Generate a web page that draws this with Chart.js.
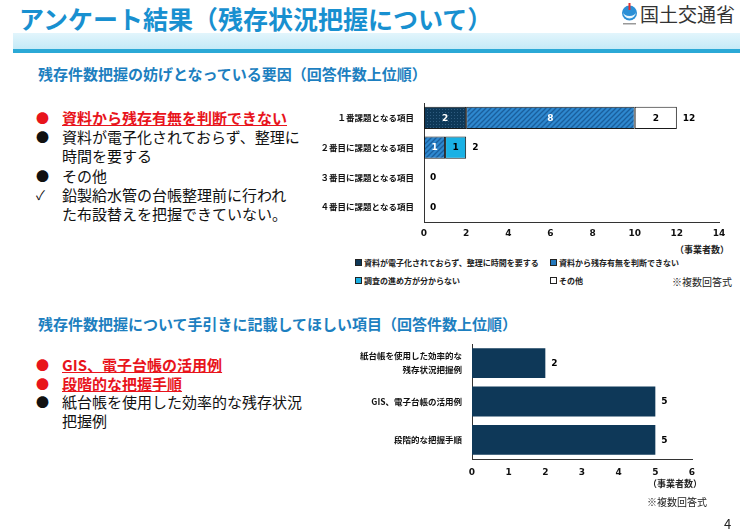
<!DOCTYPE html>
<html lang="ja">
<head>
<meta charset="utf-8">
<title>アンケート結果（残存状況把握について）</title>
<script src="https://cdn.jsdelivr.net/npm/chart.js@4.4.1/dist/chart.umd.min.js"></script>
<style>
body { margin: 0; background: #fff; font-family: 'Noto Sans CJK JP', sans-serif; }
#page { position: relative; width: 754px; height: 532px; overflow: hidden; background: #fff; }
.abs { position: absolute; white-space: nowrap; }
#title { left: 19px; top: 1px; font-size: 25px; line-height: 34px; font-weight: bold; color: #1890d0; }
#logoText { left: 640px; top: 2px; font-size: 19px; line-height: 24px; color: #333; }
#band { left: 13px; top: 33px; width: 727px; height: 16px; background: linear-gradient(#e2f5fc, #c5eaf7); }
#bandLine { left: 13px; top: 49px; width: 727px; height: 4px; background: #2ba9d6; }
.heading { left: 38px; font-size: 15px; line-height: 20px; font-weight: bold; color: #1d7fc0; }
.bullets { left: 36px; font-size: 15px; color: #111; }
.bullets div { position: relative; padding-left: 26px; }
.bullets .mark { position: absolute; left: 0; top: 0; font-size: 13px; }
.bullets .red { color: #e8141c; font-weight: bold; text-decoration: underline; }
.bullets .red .mark { color: #e8141c; }
.chartBox { position: absolute; }
.note { font-size: 9px; font-weight: bold; color: #222; }
.note2 { font-size: 10px; color: #222; }
#legend { left: 355px; top: 257px; font-size: 8px; font-weight: bold; color: #222; }
#legend .item { position: absolute; white-space: nowrap; line-height: 12px; }
#legend .sw { display: inline-block; width: 5px; height: 5px; border: 1px solid #222; margin-right: 2px; vertical-align: 0; }
#pageNo { left: 724px; top: 514px; font-size: 13px; color: #222; }
</style>
</head>
<body>
<div id="page">
  <div id="title" class="abs">アンケート結果（残存状況把握について）</div>
  <svg class="abs" style="left:620px;top:2px" width="19" height="26">
    <circle cx="9.5" cy="11" r="7.5" fill="#2a8fd6"/>
    <path d="M3 10 A6.5 6.5 0 0 0 16 10 A6.5 4 0 0 1 3 10" fill="#e8f6fd"/>
    <rect x="8.5" y="1" width="2" height="7" fill="#e03030"/>
    <rect x="3" y="21" width="13" height="1.5" fill="#999"/>
  </svg>
  <div id="logoText" class="abs">国土交通省</div>
  <div id="band" class="abs"></div>
  <div id="bandLine" class="abs"></div>

  <div class="abs heading" style="top:64px">残存件数把握の妨げとなっている要因（回答件数上位順）</div>
  <div class="abs bullets" style="top:108px; line-height:19.2px">
    <div class="red"><span class="mark">●</span>資料から残存有無を判断できない</div>
    <div><span class="mark">●</span>資料が電子化されておらず、整理に<br>時間を要する</div>
    <div><span class="mark">●</span>その他</div>
    <div><span class="mark">✓</span>鉛製給水管の台帳整理前に行われ<br>た布設替えを把握できていない。</div>
  </div>

  <div class="chartBox" style="left:300px; top:99px; width:440px; height:143px"><canvas id="reasonChart"></canvas></div>
  <div class="abs note" style="left:675px; top:243px">（事業者数）</div>
  <div id="legend" class="abs"></div>
  <div class="abs note2" style="left:672px; top:274px">※複数回答式</div>

  <div class="abs heading" style="top:314px">残存件数把握について手引きに記載してほしい項目（回答件数上位順）</div>
  <div class="abs bullets" style="top:356px; line-height:18.5px">
    <div class="red"><span class="mark">●</span>GIS、電子台帳の活用例</div>
    <div class="red"><span class="mark">●</span>段階的な把握手順</div>
    <div><span class="mark">●</span>紙台帳を使用した効率的な残存状況<br>把握例</div>
  </div>

  <div class="chartBox" style="left:340px; top:340px; width:372px; height:139px"><canvas id="guideChart"></canvas></div>
  <div class="abs note" style="left:648px; top:477px">（事業者数）</div>
  <div class="abs note2" style="left:647px; top:494px">※複数回答式</div>
  <div id="pageNo" class="abs">4</div>
</div>

<script>
// 妨げとなっている要因（回答順位別）
const reasonCategories = ['１番課題となる項目', '２番目に課題となる項目', '３番目に課題となる項目', '４番目に課題となる項目'];
const reasonSeries = ['資料が電子化されておらず、整理に時間を要する', '資料から残存有無を判断できない', '調査の進め方が分からない', 'その他'];
const notDigitized = [2, 0, 0, 0];
const cannotJudge = [8, 1, 0, 0];
const unknownMethod = [0, 1, 0, 0];
const otherReason = [2, 0, 0, 0];
const reasonAxisMax = 14;
const reasonAxisStep = 2;

// 手引きに記載してほしい項目
const guideCategories = [['紙台帳を使用した効率的な', '残存状況把握例'], 'GIS、電子台帳の活用例', '段階的な把握手順'];
const guideCounts = [2, 5, 5];
const guideAxisMax = 6;
const guideAxisStep = 1;

const navy = '#0e3858';
const numFont = { family: "'DejaVu Sans', sans-serif", size: 9, weight: 'bold' };
const jpFont = { family: "'Noto Sans CJK JP', sans-serif", size: 8.5, weight: 'bold' };

// small repeating fills like the original slide
function makePattern(base, ink, kind) {
    const c = document.createElement('canvas');
    c.width = c.height = kind === 'dots' ? 3 : 5;
    const g = c.getContext('2d');
    g.fillStyle = base;
    g.fillRect(0, 0, c.width, c.height);
    if (kind === 'dots') {
        g.fillStyle = ink;
        g.fillRect(1, 1, 1, 1);
    } else {
        g.strokeStyle = ink;
        g.lineWidth = 1.3;
        g.beginPath();
        g.moveTo(-1, 6); g.lineTo(6, -1);
        g.moveTo(-1, 1); g.lineTo(1, -1);
        g.moveTo(4, 6); g.lineTo(6, 4);
        g.stroke();
    }
    return g.createPattern(c, 'repeat');
}

const reasonFills = [makePattern(navy, '#2f5c80', 'dots'), makePattern('#2e88cf', '#1a5e9c', 'hatch'), '#1ab1e4', '#ffffff'];
const reasonSwatches = [navy, '#2478bd', '#1ab1e4', '#ffffff'];
const reasonLabelColors = ['#fff', '#fff', '#000', '#000'];
const reasonTotals = notDigitized.map((v, i) => v + cannotJudge[i] + unknownMethod[i] + otherReason[i]);

// draws the numbers inside segments and at bar ends
const valueLabels = {
    id: 'valueLabels',
    afterDatasetsDraw(chart, args, opts) {
        const ctx = chart.ctx;
        ctx.save();
        ctx.font = 'bold 9px "DejaVu Sans"';
        ctx.textBaseline = 'middle';
        if (opts.inside) {
            chart.data.datasets.forEach((ds, i) => {
                chart.getDatasetMeta(i).data.forEach((bar, j) => {
                    if (!ds.data[j]) return;
                    ctx.fillStyle = opts.inside[i];
                    ctx.textAlign = 'center';
                    ctx.fillText(ds.data[j], (bar.x + bar.base) / 2, bar.y + 0.5);
                });
            });
        }
        const xs = chart.scales.x, ys = chart.scales.y;
        opts.totals.forEach((t, j) => {
            ctx.fillStyle = '#000';
            ctx.textAlign = 'left';
            ctx.fillText(t, xs.getPixelForValue(t) + 6, ys.getPixelForValue(j) + 0.5);
        });
        ctx.restore();
    }
};

// keep the plot box where the slide has it (no label overhang padding)
function fixWidth(w) {
    return s => { s.width = w; s.paddingTop = 0; s.paddingBottom = 0; };
}
function fixHeight(h) {
    return s => { s.height = h; s.paddingLeft = 0; s.paddingRight = 0; };
}

const reasonData = [notDigitized, cannotJudge, unknownMethod, otherReason];

new Chart(document.getElementById('reasonChart'), {
    type: 'bar',
    data: {
        labels: reasonCategories,
        datasets: reasonSeries.map((name, i) => ({
            label: name,
            data: reasonData[i],
            backgroundColor: reasonFills[i],
            borderColor: '#1a1a1a',
            borderWidth: 1,
            borderSkipped: false,
            barPercentage: 0.74,
            categoryPercentage: 1
        }))
    },
    options: {
        indexAxis: 'y',
        responsive: true,
        maintainAspectRatio: false,
        animation: false,
        layout: { padding: { top: 4, right: 21, left: 0, bottom: 0 } },
        plugins: {
            legend: { display: false },
            tooltip: { enabled: false },
            valueLabels: { inside: reasonLabelColors, totals: reasonTotals }
        },
        scales: {
            x: {
                stacked: true, min: 0, max: reasonAxisMax,
                ticks: { stepSize: reasonAxisStep, font: numFont, color: '#111', padding: 6 },
                grid: { display: false, drawTicks: false },
                border: { color: '#333' },
                afterFit: fixHeight(20)
            },
            y: {
                stacked: true,
                ticks: { font: jpFont, color: '#111', padding: 10 },
                grid: { display: false, drawTicks: false },
                border: { color: '#333' },
                afterFit: fixWidth(124)
            }
        }
    },
    plugins: [valueLabels]
});

// legend laid out in two columns like the slide
const legendPos = [[0, 0], [195, 0], [0, 18], [195, 18]];
const legendBox = document.getElementById('legend');
reasonSeries.forEach((name, i) => {
    const el = document.createElement('div');
    el.className = 'item';
    el.style.left = legendPos[i][0] + 'px';
    el.style.top = legendPos[i][1] + 'px';
    el.innerHTML = '<span class="sw" style="background:' + reasonSwatches[i] + '"></span>' + name;
    legendBox.appendChild(el);
});

new Chart(document.getElementById('guideChart'), {
    type: 'bar',
    data: {
        labels: guideCategories,
        datasets: [{
            label: '回答数',
            data: guideCounts,
            backgroundColor: navy,
            borderWidth: 0,
            barPercentage: 0.78,
            categoryPercentage: 1
        }]
    },
    options: {
        indexAxis: 'y',
        responsive: true,
        maintainAspectRatio: false,
        animation: false,
        layout: { padding: { top: 4, right: 20, left: 0, bottom: 0 } },
        plugins: {
            legend: { display: false },
            tooltip: { enabled: false },
            valueLabels: { totals: guideCounts }
        },
        scales: {
            x: {
                min: 0, max: guideAxisMax,
                ticks: { stepSize: guideAxisStep, font: numFont, color: '#111', padding: 8 },
                grid: { display: false, drawTicks: false },
                border: { color: '#333' },
                afterFit: fixHeight(20)
            },
            y: {
                ticks: { font: { ...jpFont, lineHeight: 1.65 }, color: '#111', padding: 10 },
                grid: { display: false, drawTicks: false },
                border: { color: '#333' },
                afterFit: fixWidth(132)
            }
        }
    },
    plugins: [valueLabels]
});
</script>
</body>
</html>
